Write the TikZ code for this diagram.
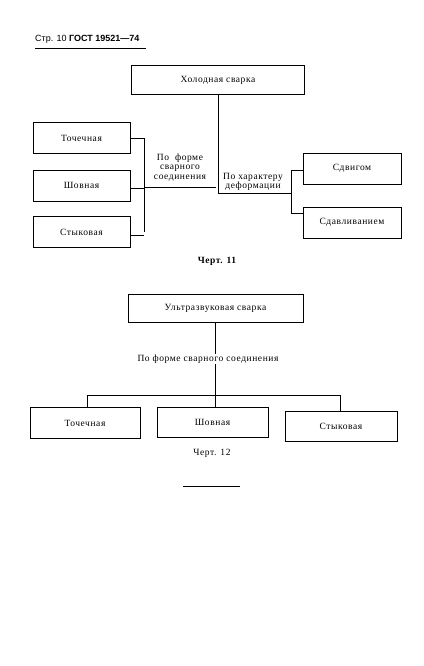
\documentclass[tikz,border=0pt]{standalone}
\usepackage{fontspec}
\setmainfont{Liberation Serif}[LetterSpace=6]
\newfontfamily\hdrfont{Liberation Sans}
\usetikzlibrary{positioning}

\tikzset{
  box/.style={draw, line width=0.6pt, minimum width=97pt, minimum height=31pt, inner sep=1pt, font=\fontsize{9.5}{10}\selectfont},
  lbl/.style={align=center, inner sep=0pt, font=\fontsize{9.5}{9.8}\selectfont},
  conn/.style={line width=0.6pt}
}

\begin{document}
\begin{tikzpicture}[x=1pt, y=-1pt]
  \useasboundingbox (0,0) rectangle (423,666);

  % header
  \node[anchor=base west, inner sep=0pt] (hdr) at (35,42) {\hdrfont\small Стр. 10 \textbf{ГОСТ 19521—74}};
  \draw[line width=1pt] (35,49) -- (146,49);

  % chart 11
  \node[box, minimum width=173pt, minimum height=29pt] (C) at (218,80) {Холодная сварка};
  \node[box] (T1) at (81.5,138) {Точечная};
  \node[box] (Sh1) at (81.5,185.5) {Шовная};
  \node[box] (St1) at (81.5,232) {Стыковая};
  \node[box, minimum width=98pt] (Sd) at (352,168.5) {Сдвигом};
  \node[box, minimum width=98pt] (Sdv) at (352,222.5) {Сдавливанием};
  \node[lbl] (F1) at (180,167.5) {По\ \ форме\\сварного\\соединения};
  \node[lbl] (D1) at (253,182) {По характеру\\деформации};
  \node[font=\fontsize{9.5}{10}\selectfont\bfseries] (K11) at (217,261) {Черт. 11};

  \coordinate (jL) at (144,187);
  \coordinate (jR) at (291,193);
  \draw[conn] (C.south) -- (C.south |- jR) -- (jR);
  \draw[conn] (jL) -- (216,187);
  \draw[conn] (T1.east -| jL) -- (St1.east -| jL);
  \draw[conn] (T1.east) -- (T1.east -| jL);
  \draw[conn] ([yshift=-2.5pt]Sh1.east) -- ([yshift=-2.5pt]Sh1.east -| jL);
  \draw[conn] ([yshift=-3pt]St1.east) -- ([yshift=-3pt]St1.east -| jL);
  \draw[conn] ([yshift=-1.5pt]Sd.west -| jR) -- ([yshift=9.5pt]Sdv.west -| jR);
  \draw[conn] ([yshift=-1.5pt]Sd.west) -- ([yshift=-1.5pt]Sd.west -| jR);
  \draw[conn] ([yshift=9.5pt]Sdv.west) -- ([yshift=9.5pt]Sdv.west -| jR);

  % chart 12
  \node[box, minimum width=175pt, minimum height=28pt] (U) at (215.5,308) {Ультразвуковая сварка};
  \node[lbl] (F2) at (208,359) {По форме сварного соединения};
  \node[box, minimum width=110pt] (T2) at (85,423) {Точечная};
  \node[box, minimum width=111pt, minimum height=30pt] (Sh2) at (212.5,422.5) {Шовная};
  \node[box, minimum width=112pt, minimum height=30pt] (St2) at (341,426) {Стыковая};
  \node[font=\fontsize{9.5}{10}\selectfont] (K12) at (212,453) {Черт. 12};

  \coordinate (jB) at (215.5,395);
  \draw[conn] (U.south) -- (U.south |- F2.north);
  \draw[conn] (jB |- F2.south) -- (jB);
  \draw[conn] (87,395) -- (340,395);
  \draw[conn] (87,395) -- (87,408);
  \draw[conn] (jB) -- (jB |- Sh2.north);
  \draw[conn] (340,395) -- (340,411);

  \draw[line width=0.8pt] (183,486) -- (240,486);
\end{tikzpicture}
\end{document}
